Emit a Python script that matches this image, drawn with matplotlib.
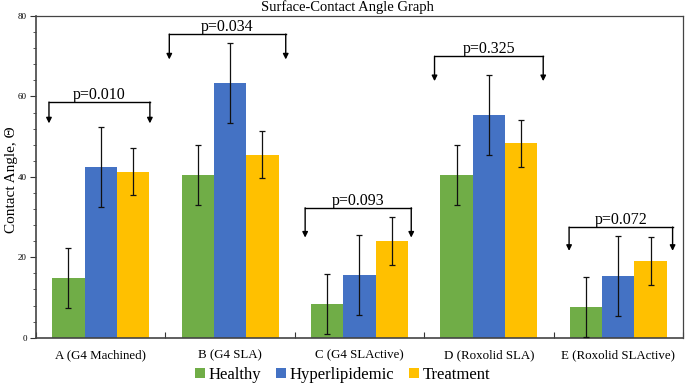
import matplotlib
matplotlib.use("Agg")
import matplotlib.pyplot as plt
import numpy as np

categories = ["A (G4 Machined)", "B (G4 SLA)", "C (G4 SLActive)", "D (Roxolid SLA)", "E (Roxolid SLActive)"]
series_names = ["Healthy", "Hyperlipidemic", "Treatment"]
healthy = [14.8, 40.4, 8.4, 40.5, 7.6]
healthy_err = [7.5, 7.5, 7.5, 7.5, 7.5]
hyper = [42.5, 63.3, 15.6, 55.4, 15.4]
hyper_err = [10.0, 10.0, 10.0, 10.0, 10.0]
treat = [41.3, 45.5, 24.1, 48.3, 19.1]
treat_err = [5.9, 5.9, 5.9, 5.9, 5.9]
p_labels = ["p=0.010", "p=0.034", "p=0.093", "p=0.325", "p=0.072"]
bracket_top = [58.6, 75.5, 32.3, 70.0, 27.5]
bracket_tip = [53.3, 69.2, 24.9, 63.8, 21.6]
bracket_left = [-0.40, -0.47, -0.42, -0.42, -0.38]
bracket_right = [0.38, 0.43, 0.40, 0.42, 0.42]
y_ticks = [0, 20, 40, 60, 80]

colors = ["#70AD47", "#4472C4", "#FFC000"]
serif = ["Liberation Serif", "DejaVu Serif"]
plt.rcParams["font.family"] = serif

fig = plt.figure(figsize=(6.85, 3.85), dpi=100)
ax = fig.add_axes([0.0526, 0.1229, 0.9444, 0.8355])

x = np.arange(len(categories))
w = 0.25
vals = [healthy, hyper, treat]
errs = [healthy_err, hyper_err, treat_err]
for i in range(3):
    ax.bar(x + (i - 1) * w, vals[i], w, color=colors[i], label=series_names[i], zorder=2)
    ax.errorbar(x + (i - 1) * w, vals[i], yerr=errs[i], fmt="none", ecolor="#111111",
                elinewidth=0.9, capsize=2.2, capthick=0.9, zorder=3)

for k in range(len(categories)):
    xl = x[k] + bracket_left[k]
    xr = x[k] + bracket_right[k]
    yt = bracket_top[k]
    ax.plot([xl, xr], [yt, yt], color="black", lw=1.0, zorder=4)
    for xx in (xl, xr):
        ax.annotate("", xy=(xx, bracket_tip[k]), xytext=(xx, yt),
                    arrowprops=dict(arrowstyle="-|>", color="black", lw=1.0,
                                    mutation_scale=8, shrinkA=0, shrinkB=0), zorder=4)
    ax.text((xl + xr) / 2, yt - 0.3, p_labels[k], ha="center", va="bottom", fontsize=11.5, zorder=5)

ax.set_xlim(-0.5, len(categories) - 0.5)
ax.set_ylim(0, 80)
ax.set_yticks(y_ticks)
ax.set_yticks(np.arange(0, 81, 4), minor=True)
ax.tick_params(axis="y", which="major", labelsize=6.5, length=4, width=0.8, pad=2.5,
               colors="#333333", labelcolor="black")
ax.tick_params(axis="y", which="minor", length=2.5, width=0.7, colors="#555555")
ax.set_xticks(np.arange(-0.5, len(categories), 1.0), minor=True)
ax.set_xticks(x)
ax.set_xticklabels(categories, fontsize=9.3)
ax.tick_params(axis="x", which="major", length=0, pad=8)
ax.tick_params(axis="x", which="minor", direction="in", length=4, width=0.8, colors="#333333")
for s in ax.spines.values():
    s.set_color("#444444")
    s.set_linewidth(0.9)
ax.spines["left"].set_linewidth(1.2)
ax.spines["bottom"].set_linewidth(1.2)

ax.set_ylabel("Contact Angle, \u0398", fontsize=11)
ax.yaxis.set_label_coords(-0.028, 0.49)
fig.text(0.507, 0.981, "Surface-Contact Angle Graph", ha="center", va="center", fontsize=10.5)

leg = fig.legend(loc="center", bbox_to_anchor=(0.5, 0.026), ncol=3, frameon=False,
                 fontsize=12, handlelength=0.6, handleheight=0.6, handletextpad=0.2,
                 columnspacing=0.9, borderpad=0)

fig.savefig("out.png", dpi=100)
